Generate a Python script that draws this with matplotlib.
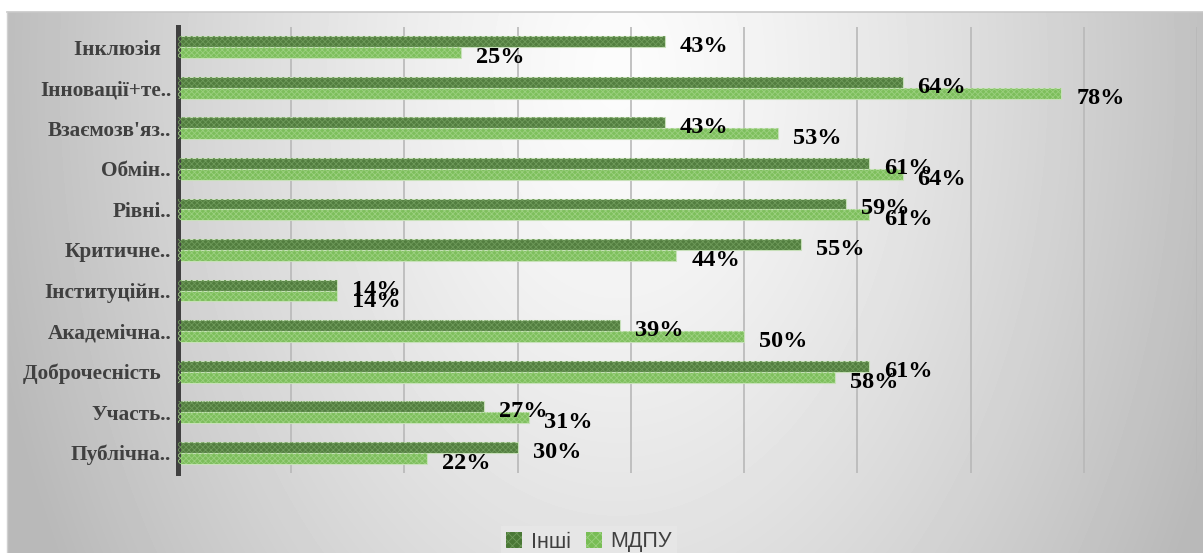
import numpy as np
import matplotlib
matplotlib.use("Agg")
import matplotlib.pyplot as plt
from matplotlib.patches import Patch

categories = ["Інклюзія  ", "Інновації+те..", "Взаємозв'яз..", "Обмін..", "Рівні..",
              "Критичне..", "Інституційн..", "Академічна..", "Доброчесність  ",
              "Участь..", "Публічна.."]
inshi = [43, 64, 43, 61, 59, 55, 14, 39, 61, 27, 30]
mdpu = [25, 78, 53, 64, 61, 44, 14, 50, 58, 31, 22]
series_names = ["Інші", "МДПУ"]

W, H = 1203, 553
fig = plt.figure(figsize=(W / 100, H / 100), dpi=100)
fig.patch.set_facecolor("white")

# background gradient panel
bg = fig.add_axes([7 / W, 0, 1 - 7 / W, (H - 12) / H], zorder=-5)
yy, xx = np.mgrid[0:541, 0:1196]
cx, cy = 610, 60
r = np.sqrt(((xx - cx) / 590.0) ** 2 + ((yy - cy) / 900.0) ** 2)
g = np.clip(252 - 60 * r ** 1.3, 185, 252) / 255.0
bg.imshow(g, cmap="gray", vmin=0, vmax=1, aspect="auto", interpolation="bilinear")
bg.set_axis_off()
fig.add_artist(plt.Line2D([7 / W, 1], [(H - 12) / H] * 2, color="#c8c8c8", lw=1.2))
fig.add_artist(plt.Line2D([7 / W, 7 / W], [0, (H - 12) / H], color="#d0d0d0", lw=1.0))

ax = fig.add_axes([178 / W, 80 / H, (1197 - 178) / W, (473 - 27) / H])
ax.set_facecolor("none")

n = len(categories)
y = np.arange(n)
h = 0.27
dark_face, dark_hatch = "#4a7836", "#6e9a5a"
light_face, light_hatch = "#78bd55", "#9bd07f"
edge = "#c9e2bb"

plt.rcParams["hatch.linewidth"] = 0.6
vals_i = np.array(inshi) / 100.0
vals_m = np.array(mdpu) / 100.0
ax.barh(y - h / 2, vals_i, height=h, color=dark_face, edgecolor=edge, lw=0.8, alpha=0.95, zorder=2)
ax.barh(y - h / 2, vals_i, height=h, facecolor="none", edgecolor=dark_hatch, hatch="xxxxxx", lw=0, zorder=3)
ax.barh(y + h / 2, vals_m, height=h, color=light_face, edgecolor=edge, lw=0.8, alpha=0.95, zorder=2)
ax.barh(y + h / 2, vals_m, height=h, facecolor="none", edgecolor=light_hatch, hatch="xxxxxx", lw=0, zorder=3)

lab_font = dict(family=["Liberation Serif", "DejaVu Serif"], fontweight="bold", fontsize=17.5, color="black")
for vals, off in ((inshi, -h / 2), (mdpu, h / 2)):
    for i, v in enumerate(vals):
        ax.annotate(f"{v}%", xy=(v / 100.0, i + off), xytext=(15, -5), textcoords="offset pixels",
                    ha="left", va="center", zorder=5, **lab_font)

ax.set_xlim(0, 0.9)
ax.set_ylim(n - 0.5, -0.5)
ax.set_xticks(np.arange(0, 0.91, 0.1))
ax.set_xticklabels([])
ax.tick_params(axis="x", length=0)
ax.grid(axis="x", color="#b8b8b8", lw=1.2, zorder=1)
ax.set_axisbelow(True)
ax.set_yticks(y)
ax.set_yticklabels(categories, family=["Liberation Serif", "DejaVu Serif"], fontweight="bold",
                   fontsize=15.3, color="#404040")
ax.tick_params(axis="y", length=0, pad=5)
for s in ("top", "right", "bottom"):
    ax.spines[s].set_visible(False)
ax.spines["left"].set_color("#404040")
ax.spines["left"].set_linewidth(3.6)

handles = [Patch(facecolor=dark_face, edgecolor=dark_hatch, hatch="xxxx", lw=0),
           Patch(facecolor=light_face, edgecolor=light_hatch, hatch="xxxx", lw=0)]
leg = fig.legend(handles, series_names, loc="center", bbox_to_anchor=(589 / W, 11 / H),
                 ncol=2, frameon=True, fancybox=False, facecolor="#e6e6e6", edgecolor="none",
                 framealpha=1, handlelength=0.75, handleheight=0.75, handletextpad=0.4,
                 columnspacing=0.7, borderpad=0.25,
                 prop=dict(family=["Liberation Sans", "DejaVu Sans"], size=15.5))
for t in leg.get_texts():
    t.set_color("#404040")

fig.savefig("out.png", dpi=100, facecolor="white")
